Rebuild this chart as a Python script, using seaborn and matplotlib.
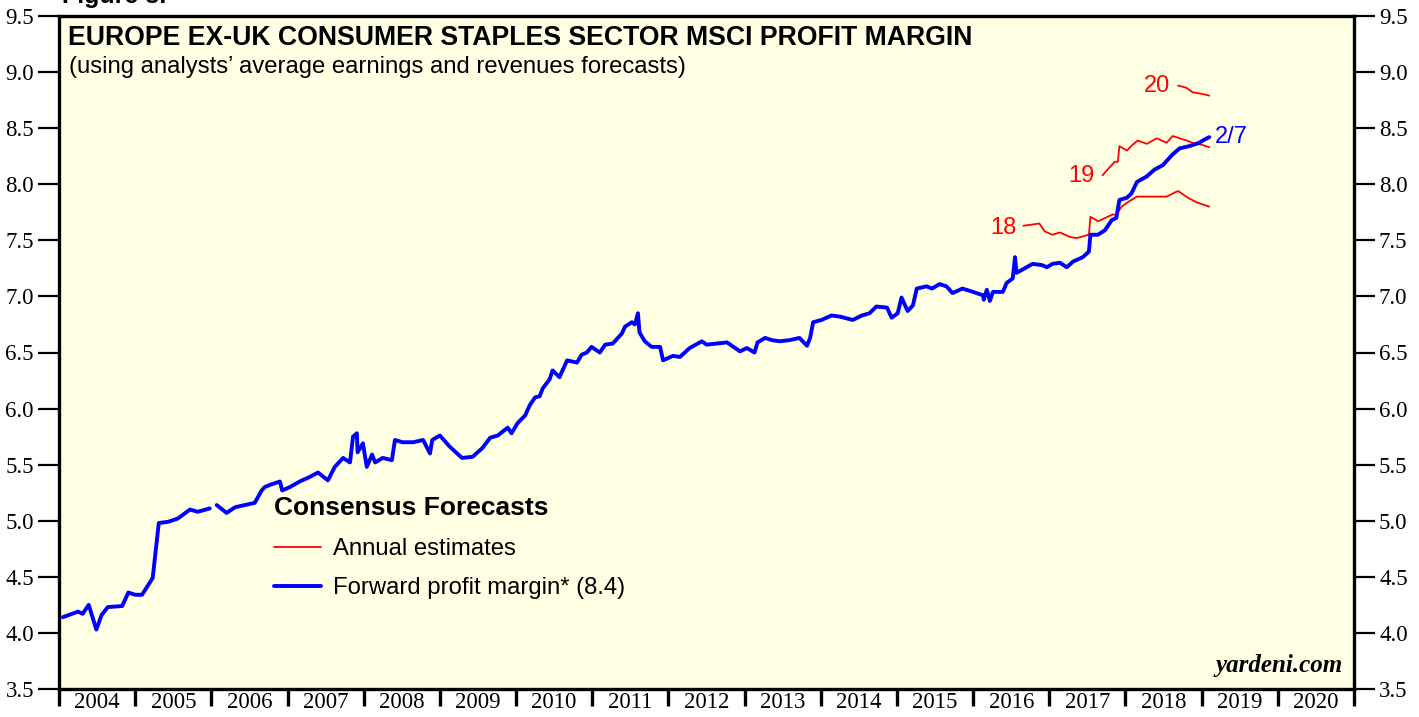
import numpy as np
import pandas as pd
import matplotlib
matplotlib.use("Agg")
import matplotlib.pyplot as plt
from matplotlib.lines import Line2D
from matplotlib.ticker import MultipleLocator, FixedLocator, NullFormatter, FixedFormatter
import seaborn as sns

# ---------------- data ----------------
fwd_dates = [2004.05, 2004.25, 2004.31, 2004.39, 2004.49, 2004.56, 2004.64, 2004.83, 2004.91, 2005.00,
             2005.09, 2005.23, 2005.31, 2005.43, 2005.56, 2005.72, 2005.82, 2005.98,
             2006.07, 2006.20, 2006.31, 2006.44, 2006.57, 2006.66, 2006.70, 2006.77, 2006.90, 2006.93,
             2007.03, 2007.16, 2007.29, 2007.40, 2007.53, 2007.62, 2007.73, 2007.82, 2007.86, 2007.91,
             2007.92, 2007.99, 2008.04, 2008.11, 2008.15, 2008.25, 2008.37, 2008.41, 2008.51, 2008.65,
             2008.78, 2008.87, 2008.90, 2009.00, 2009.13, 2009.29, 2009.43, 2009.56, 2009.66, 2009.76,
             2009.89, 2009.94, 2010.02, 2010.12, 2010.18, 2010.25, 2010.31, 2010.35, 2010.44, 2010.48,
             2010.57, 2010.67, 2010.80, 2010.86, 2010.93, 2010.99, 2011.10, 2011.17, 2011.27, 2011.39,
             2011.43, 2011.52, 2011.56, 2011.60, 2011.62, 2011.69, 2011.78, 2011.89, 2011.93, 2012.06,
             2012.15, 2012.28, 2012.44, 2012.50, 2012.64, 2012.77, 2012.94, 2013.03, 2013.13, 2013.17,
             2013.27, 2013.36, 2013.46, 2013.59, 2013.72, 2013.82, 2013.86, 2013.90, 2014.01, 2014.14,
             2014.25, 2014.42, 2014.54, 2014.64, 2014.73, 2014.87, 2014.93, 2015.01, 2015.06, 2015.14,
             2015.21, 2015.26, 2015.39, 2015.46, 2015.56, 2015.65, 2015.73, 2015.86, 2016.00, 2016.13,
             2016.14, 2016.18, 2016.22, 2016.26, 2016.39, 2016.44, 2016.52, 2016.55, 2016.57, 2016.65,
             2016.78, 2016.90, 2016.97, 2017.04, 2017.14, 2017.23, 2017.31, 2017.44, 2017.52, 2017.54,
             2017.64, 2017.73, 2017.82, 2017.88, 2017.92, 2018.02, 2018.08, 2018.15, 2018.28, 2018.38,
             2018.49, 2018.61, 2018.71, 2018.84, 2018.97, 2019.04, 2019.10]
fwd_values = [4.14, 4.19, 4.17, 4.25, 4.03, 4.16, 4.23, 4.24, 4.36, 4.34,
              4.34, 4.49, 4.98, 4.99, 5.02, 5.10, 5.08, 5.11,
              5.14, 5.07, 5.12, 5.14, 5.16, 5.27, 5.30, 5.32, 5.35, 5.27,
              5.30, 5.35, 5.39, 5.43, 5.36, 5.48, 5.56, 5.52, 5.75, 5.78,
              5.61, 5.69, 5.48, 5.59, 5.52, 5.56, 5.54, 5.72, 5.70, 5.70,
              5.72, 5.60, 5.72, 5.76, 5.66, 5.56, 5.57, 5.65, 5.74, 5.76,
              5.83, 5.78, 5.87, 5.94, 6.03, 6.10, 6.11, 6.18, 6.26, 6.34,
              6.28, 6.43, 6.41, 6.48, 6.50, 6.55, 6.50, 6.57, 6.58, 6.67,
              6.73, 6.77, 6.75, 6.85, 6.68, 6.60, 6.55, 6.55, 6.43, 6.47,
              6.46, 6.54, 6.60, 6.57, 6.58, 6.59, 6.51, 6.54, 6.50, 6.59,
              6.63, 6.61, 6.60, 6.61, 6.63, 6.56, 6.63, 6.77, 6.79, 6.83,
              6.82, 6.79, 6.83, 6.85, 6.91, 6.90, 6.81, 6.85, 6.99, 6.87,
              6.92, 7.07, 7.09, 7.07, 7.11, 7.09, 7.03, 7.07, 7.04, 7.01,
              6.97, 7.06, 6.96, 7.04, 7.04, 7.12, 7.16, 7.35, 7.21, 7.24,
              7.29, 7.28, 7.26, 7.29, 7.30, 7.26, 7.31, 7.35, 7.40, 7.55,
              7.55, 7.59, 7.68, 7.70, 7.86, 7.88, 7.92, 8.02, 8.07, 8.13,
              8.17, 8.26, 8.32, 8.34, 8.37, 8.40, 8.42]
fwd_segment = [0] * 18 + [1] * (len(fwd_dates) - 18)

est18_dates = [2016.66, 2016.87, 2016.94, 2017.04, 2017.14, 2017.27, 2017.36, 2017.52, 2017.54, 2017.64,
               2017.83, 2017.88, 2017.95, 2018.03, 2018.15, 2018.36, 2018.54, 2018.69, 2018.82, 2018.93, 2019.10]
est18_values = [7.63, 7.65, 7.58, 7.55, 7.57, 7.53, 7.52, 7.55, 7.71, 7.67,
                7.73, 7.73, 7.80, 7.84, 7.89, 7.89, 7.89, 7.94, 7.88, 7.84, 7.80]
est19_dates = [2017.70, 2017.79, 2017.86, 2017.90, 2017.92, 2018.02, 2018.09, 2018.16, 2018.28, 2018.41,
               2018.54, 2018.62, 2018.71, 2018.80, 2018.88, 2019.01, 2019.10]
est19_values = [8.08, 8.15, 8.20, 8.20, 8.34, 8.30, 8.35, 8.39, 8.36, 8.41,
                8.37, 8.43, 8.41, 8.39, 8.37, 8.35, 8.33]
est20_dates = [2018.69, 2018.75, 2018.80, 2018.88, 2018.97, 2019.04, 2019.10]
est20_values = [8.88, 8.87, 8.86, 8.82, 8.81, 8.80, 8.79]

year_labels = [str(y) for y in range(2004, 2021)]
est_labels = ["18", "19", "20"]
title = "EUROPE EX-UK CONSUMER STAPLES SECTOR MSCI PROFIT MARGIN"
subtitle = "(using analysts\u2019 average earnings and revenues forecasts)"
legend_title = "Consensus Forecasts"
legend_labels = ["Annual estimates", "Forward profit margin* (8.4)"]

# ---------------- frames ----------------
fwd_df = pd.DataFrame({"date": fwd_dates, "value": fwd_values, "segment": fwd_segment})
est_df = pd.concat([
    pd.DataFrame({"date": est18_dates, "value": est18_values, "year": "18"}),
    pd.DataFrame({"date": est19_dates, "value": est19_values, "year": "19"}),
    pd.DataFrame({"date": est20_dates, "value": est20_values, "year": "20"}),
], ignore_index=True)

# ---------------- style ----------------
sns.set_theme(style="ticks")
plt.rcParams["font.family"] = ["Liberation Sans", "DejaVu Sans"]
plt.rcParams["text.color"] = "black"
plt.rcParams["axes.labelcolor"] = "black"
plt.rcParams["xtick.color"] = "black"
plt.rcParams["ytick.color"] = "black"
BG = "#FFFFE3"
RED = "#FF0000"
BLUE = "#0000FF"
SERIF = "Liberation Serif"

fig = plt.figure(figsize=(14.19, 7.17), dpi=100)
ax = fig.add_axes([59 / 1419, 1 - 689 / 717, (1354 - 59) / 1419, (689 - 16) / 717])
ax.set_facecolor(BG)

sns.lineplot(data=est_df, x="date", y="value", units="year", estimator=None,
             color=RED, linewidth=1.3, ax=ax, legend=False, sort=False)
sns.lineplot(data=fwd_df, x="date", y="value", units="segment", estimator=None,
             color=BLUE, linewidth=2.8, ax=ax, legend=False, sort=False)

ax.set_xlim(2004, 2021)
ax.set_ylim(3.5, 9.5)
ax.set_xlabel("")
ax.set_ylabel("")

# y axis on both sides
ax.yaxis.set_major_locator(MultipleLocator(0.5))
ax.yaxis.set_major_formatter(matplotlib.ticker.FormatStrFormatter("%.1f"))
ax.tick_params(axis="y", which="major", direction="out", length=15, width=1.6,
               left=True, right=True, labelleft=True, labelright=True, pad=3,
               labelsize=16.5, colors="black")
for lab in ax.get_yticklabels():
    lab.set_fontfamily(SERIF)

# x axis: ticks at year boundaries, labels centered on the years
ax.xaxis.set_major_locator(FixedLocator(list(range(2004, 2022))))
ax.xaxis.set_major_formatter(NullFormatter())
ax.xaxis.set_minor_locator(FixedLocator([y + 0.5 for y in range(2004, 2021)]))
ax.xaxis.set_minor_formatter(FixedFormatter(year_labels))
ax.tick_params(axis="x", which="major", direction="out", length=12, width=2.4, colors="black")
ax.tick_params(axis="x", which="minor", length=0, pad=2, labelsize=16.5, colors="black")
for lab in ax.get_xticklabels(minor=True):
    lab.set_fontfamily(SERIF)

for sp in ax.spines.values():
    sp.set_visible(True)
    sp.set_linewidth(2.4)
    sp.set_color("black")

# titles
ax.text(0.007, 0.986, title, transform=ax.transAxes, fontsize=19.2, fontweight="bold",
        ha="left", va="top", color="black")
ax.text(0.008, 0.941, subtitle, transform=ax.transAxes, fontsize=17.2,
        ha="left", va="top", color="black")
fig.text(62 / 1419, 1 - 3 / 717, "Figure 3.", fontsize=18, fontweight="bold",
         ha="left", va="baseline", color="black")

# end labels
ax.text(est18_dates[0] - 0.09, est18_values[0] - 0.02, est_labels[0], color=RED, fontsize=17,
        ha="right", va="center")
ax.text(est19_dates[0] - 0.1, est19_values[0] - 0.01, est_labels[1], color=RED, fontsize=17,
        ha="right", va="center")
ax.text(est20_dates[0] - 0.11, est20_values[0] + 0.0, est_labels[2], color=RED, fontsize=17,
        ha="right", va="center")
ax.text(fwd_dates[-1] + 0.07, fwd_values[-1] + 0.0, "2/7", color=BLUE, fontsize=17,
        ha="left", va="center")

# legend
handles = [Line2D([], [], color=RED, linewidth=1.3), Line2D([], [], color=BLUE, linewidth=2.8)]
leg = ax.legend(handles, legend_labels, title=legend_title, loc="upper left",
                bbox_to_anchor=((274 - 59) / 1295, (689 - 496) / 673), frameon=False,
                fontsize=17.2, title_fontsize=19, handlelength=1.95, handletextpad=0.5,
                labelspacing=0.72, borderpad=0, borderaxespad=0, alignment="left")
leg.get_title().set_fontweight("bold")
leg.get_title().set_color("black")
for t in leg.get_texts():
    t.set_color("black")
leg._legend_box.sep = 13

ax.text(0.9915, 0.018, "yardeni.com", transform=ax.transAxes, fontsize=18,
        fontweight="bold", fontstyle="italic", fontfamily=SERIF, ha="right", va="bottom")

fig.savefig("out.png", dpi=100, facecolor="white")
